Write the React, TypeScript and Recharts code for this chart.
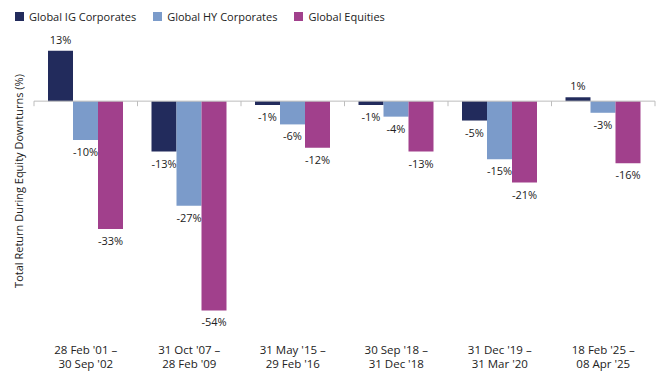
import React from 'react';
import { BarChart, Bar, XAxis, YAxis, ReferenceLine, LabelList } from 'recharts';

const FONT = '"Open Sans", sans-serif';

const periodStart = ["28 Feb '01 –", "31 Oct '07 –", "31 May '15 –", "30 Sep '18 –", "31 Dec '19 –", "18 Feb '25 –"];
const periodEnd = ["30 Sep '02", "28 Feb '09", "29 Feb '16", "31 Dec '18", "31 Mar '20", "08 Apr '25"];
const igCorporates = [13, -13, -1, -1, -5, 1];
const hyCorporates = [-10, -27, -6, -4, -15, -3];
const equities = [-33, -54, -12, -13, -21, -16];

const series = [
  { key: 'ig', name: 'Global IG Corporates', color: '#222b5c' },
  { key: 'hy', name: 'Global HY Corporates', color: '#7b9bca' },
  { key: 'eq', name: 'Global Equities', color: '#a1408c' },
];

const data = periodStart.map((start, i) => ({
  period: `${start}|${periodEnd[i]}`,
  ig: igCorporates[i],
  hy: hyCorporates[i],
  eq: equities[i],
}));

const BarValue = (props: any) => {
  const { x, y, width, height, value } = props;
  const top = Math.min(Number(y), Number(y) + Number(height));
  const bottom = Math.max(Number(y), Number(y) + Number(height));
  const ty = value >= 0 ? top - 7 : bottom + 16;
  return (
    <text x={Number(x) + Number(width) / 2} y={ty} textAnchor="middle" fontSize={11} fill="#222" fontFamily={FONT}>
      {`${value}%`}
    </text>
  );
};

const PeriodTick = (props: any) => {
  const { x, y, payload } = props;
  const [a, b] = String(payload.value).split('|');
  return (
    <text x={x} y={y} textAnchor="middle" fontSize={11.5} fill="#222" fontFamily={FONT}>
      <tspan x={x} dy={20}>{a}</tspan>
      <tspan x={x} dy={14}>{b}</tspan>
    </text>
  );
};

const YLabel = () => (
  <text
    x={18}
    y={181}
    transform="rotate(-90 18 181)"
    textAnchor="middle"
    dominantBaseline="central"
    fontSize={11}
    fill="#222"
    fontFamily={FONT}
  >
    Total Return During Equity Downturns (%)
  </text>
);

const App: React.FC = () => {
  return (
    <div style={{ position: 'relative', width: 668, height: 382, background: '#fff' }}>
      <style>{'body{margin:0}'}</style>
      <div style={{ position: 'absolute', top: 9, left: 15, display: 'flex', alignItems: 'center', fontFamily: FONT, fontSize: 11, color: '#222', zIndex: 2 }}>
        {series.map((s) => (
          <div key={s.key} style={{ display: 'flex', alignItems: 'center', marginRight: 17 }}>
            <span style={{ width: 9, height: 9, background: s.color, display: 'inline-block', marginRight: 5 }} />
            <span>{s.name}</span>
          </div>
        ))}
      </div>
      <BarChart
        width={668}
        height={382}
        data={data}
        margin={{ top: 43, right: 13, bottom: 0, left: 8 }}
        barCategoryGap={14}
        barGap={0}
      >
        <XAxis dataKey="period" height={56} axisLine={false} tickLine={false} interval={0} tick={<PeriodTick />} />
        <YAxis
          type="number"
          domain={[-58, 15]}
          width={26}
          tick={false}
          axisLine={false}
          tickLine={false}
          label={{ content: () => <YLabel /> }}
        />
        <ReferenceLine y={0} stroke="#bdbdbd" strokeWidth={1} />
        {data.map((d) => (
          <ReferenceLine
            key={d.period}
            segment={[{ x: d.period, y: 0 }, { x: d.period, y: -1.3 }]}
            position="start"
            stroke="#bdbdbd"
          />
        ))}
        <ReferenceLine
          segment={[{ x: data[data.length - 1].period, y: 0 }, { x: data[data.length - 1].period, y: -1.3 }]}
          position="end"
          stroke="#bdbdbd"
        />
        {series.map((s) => (
          <Bar key={s.key} dataKey={s.key} name={s.name} fill={s.color} isAnimationActive={false}>
            <LabelList dataKey={s.key} content={<BarValue />} />
          </Bar>
        ))}
      </BarChart>
    </div>
  );
};

export default App;
